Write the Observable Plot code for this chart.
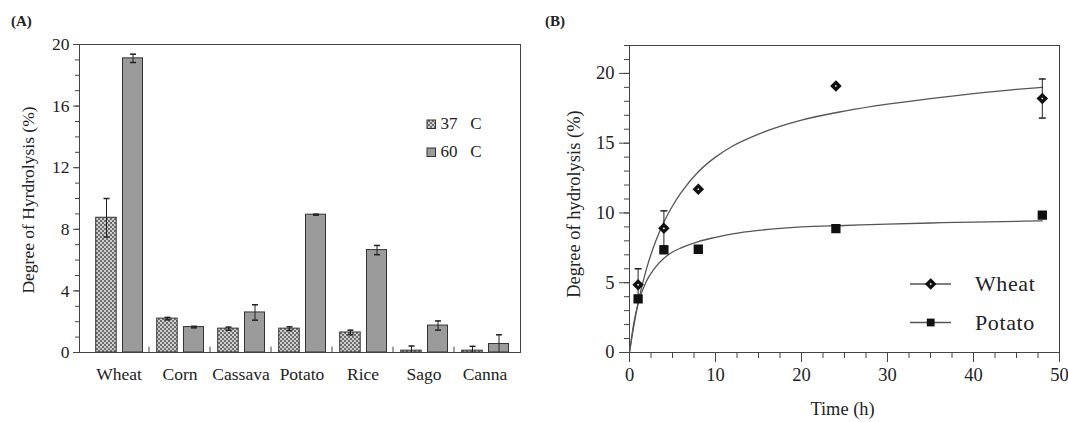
<!DOCTYPE html>
<html><head><meta charset="utf-8">
<script src="https://cdn.jsdelivr.net/npm/d3@7"></script>
<script src="https://cdn.jsdelivr.net/npm/@observablehq/plot@0.6"></script>
<style>
html,body{margin:0;padding:0;background:#fff;}
#wrap{position:relative;width:1068px;height:422px;overflow:hidden;font-family:"Liberation Serif","Times New Roman",serif;color:#222;}
#wrap > svg{position:absolute;top:0;overflow:visible;}
</style></head><body><div id="wrap"></div>
<script>
// ---------- Panel A data ----------
const categories = ["Wheat","Corn","Cassava","Potato","Rice","Sago","Canna"];
const tempLabels = ["37   C","60   C"];
const dh37 = [8.75, 2.2, 1.55, 1.55, 1.3, 0.12, 0.12];
const err37 = [1.25, 0.08, 0.1, 0.12, 0.15, 0.3, 0.28];
const dh60 = [19.1, 1.65, 2.6, 8.95, 6.65, 1.75, 0.55];
const err60 = [0.27, 0.05, 0.5, 0.03, 0.3, 0.3, 0.6];
const yTicksA = [0, 4, 8, 12, 16, 20];
const yMinorA = [0,1,2,3,4,5,6,7,8,9,10,11,12,13,14,15,16,17,18,19,20];

// ---------- Panel B data ----------
const times = [1, 4, 8, 24, 48];
const wheatDH = [4.85, 8.9, 11.7, 19.1, 18.2];
const wheatErr = [1.15, 1.25, 0, 0, 1.4];
const potatoDH = [3.85, 7.35, 7.4, 8.88, 9.85];
const fitTimes = [0, 0.5, 1, 2, 3, 4, 5, 6, 8, 10, 12, 15, 20, 25, 30, 35, 40, 45, 48];
const wheatFit = [0, 1.9, 3.55, 6.05, 7.9, 9.35, 10.5, 11.45, 12.95, 14.0, 14.8, 15.65, 16.65, 17.3, 17.8, 18.2, 18.55, 18.85, 19.0];
const potatoFit = [0, 2.1, 3.5, 5.15, 6.1, 6.75, 7.2, 7.5, 7.95, 8.25, 8.5, 8.75, 9.0, 9.1, 9.2, 9.28, 9.35, 9.4, 9.43];
const seriesNames = ["Wheat", "Potato"];
const yTicksB = [0, 5, 10, 15, 20];
const yMinorB = [0,1,2,3,4,5,6,7,8,9,10,11,12,13,14,15,16,17,18,19,20,21,22];
const xTicksB = [0, 10, 20, 30, 40, 50];
const xMinorB = [0,2.5,5,7.5,10,12.5,15,17.5,20,22.5,25,27.5,30,32.5,35,37.5,40,42.5,45,47.5,50];

// ---------- tables ----------
const rows37 = categories.map((c, i) => ({cat: c, temp: tempLabels[0], v: dh37[i], e: err37[i]}));
const rows60 = categories.map((c, i) => ({cat: c, temp: tempLabels[1], v: dh60[i], e: err60[i]}));
const wheatRows = times.map((t, i) => ({t, v: wheatDH[i], e: wheatErr[i]}));
const potatoRows = times.map((t, i) => ({t, v: potatoDH[i]}));
const wheatFitRows = fitTimes.map((t, i) => ({t, v: wheatFit[i]}));
const potatoFitRows = fitTimes.map((t, i) => ({t, v: potatoFit[i]}));

const capSymbol = {draw(ctx, size) { const w = Math.sqrt(size / Math.PI); ctx.moveTo(-w, 0); ctx.lineTo(w, 0); }};
const ink = "#222";
const baseStyle = {fontFamily: "Liberation Serif, Times New Roman, serif", color: ink, background: "transparent", overflow: "visible"};

const chartA = Plot.plot({
  width: 534, height: 422,
  marginLeft: 79, marginRight: 14, marginTop: 44, marginBottom: 70,
  style: {...baseStyle, fontSize: "17px"},
  x: {type: "band", domain: categories, range: [84.3, 518.3], padding: 0},
  y: {domain: [0, 20]},
  marks: [
    Plot.barY(rows37, {x: "cat", y: "v", fill: "url(#chk)", stroke: "#333", strokeWidth: 1, insetLeft: 7.7, insetRight: 32.8}),
    Plot.barY(rows60, {x: "cat", y: "v", fill: "#9b9b9b", stroke: "#333", strokeWidth: 1, insetLeft: 34.5, insetRight: 6.5}),
    Plot.ruleX(rows37, {x: "cat", y1: d => d.v - d.e, y2: d => d.v + d.e, dx: -12.5, stroke: ink, clip: true}),
    Plot.dot(rows37, {x: "cat", y: d => d.v + d.e, dx: -12.5, symbol: capSymbol, r: 3, fill: "none", stroke: ink, clip: true}),
    Plot.dot(rows37, {x: "cat", y: d => d.v - d.e, dx: -12.5, symbol: capSymbol, r: 3, fill: "none", stroke: ink, clip: true}),
    Plot.ruleX(rows60, {x: "cat", y1: d => d.v - d.e, y2: d => d.v + d.e, dx: 14, stroke: ink, clip: true}),
    Plot.dot(rows60, {x: "cat", y: d => d.v + d.e, dx: 14, symbol: capSymbol, r: 3, fill: "none", stroke: ink, clip: true}),
    Plot.dot(rows60, {x: "cat", y: d => d.v - d.e, dx: 14, symbol: capSymbol, r: 3, fill: "none", stroke: ink, clip: true}),
    Plot.ruleX(categories.slice(1), {x: d => d, y1: 0, y2: 0.35, dx: -31, stroke: "#444"}),
    Plot.frame({stroke: "#444"}),
    Plot.axisY({ticks: yTicksA, tickSize: 6, tickPadding: 4, label: null, fontSize: 17.5, stroke: "#444"}),
    Plot.axisY({ticks: yMinorA, tickSize: 4, tickFormat: () => "", label: null, stroke: "#444"}),
    Plot.axisX({tickSize: 0, tickPadding: 15, label: null, fontSize: 17.5})
  ]
});

const chartB = Plot.plot({
  width: 534, height: 422,
  marginLeft: 95, marginRight: 9, marginTop: 45, marginBottom: 70,
  style: {...baseStyle, fontSize: "18px"},
  x: {domain: [0, 50]},
  y: {domain: [0, 22]},
  marks: [
    Plot.frame({stroke: "#444"}),
    Plot.axisY({ticks: yTicksB, tickSize: 10, tickPadding: 5, label: null, fontSize: 18.5, stroke: "#444"}),
    Plot.axisY({ticks: yMinorB, tickSize: 5, tickFormat: () => "", label: null, stroke: "#444"}),
    Plot.axisX({ticks: xTicksB, tickSize: 10, tickPadding: 5, label: null, fontSize: 18.5, stroke: "#444"}),
    Plot.axisX({ticks: xMinorB, tickSize: 6, tickFormat: () => "", label: null, stroke: "#444"}),
    Plot.line(wheatFitRows, {x: "t", y: "v", curve: "monotone-x", stroke: "#555", strokeWidth: 1.3}),
    Plot.line(potatoFitRows, {x: "t", y: "v", curve: "monotone-x", stroke: "#555", strokeWidth: 1.3}),
    Plot.ruleX(wheatRows.filter(d => d.e > 0), {x: "t", y1: d => d.v - d.e, y2: d => d.v + d.e, stroke: ink}),
    Plot.dot(wheatRows.filter(d => d.e > 0), {x: "t", y: d => d.v + d.e, symbol: capSymbol, r: 3.5, fill: "none", stroke: ink}),
    Plot.dot(wheatRows.filter(d => d.e > 0), {x: "t", y: d => d.v - d.e, symbol: capSymbol, r: 3.5, fill: "none", stroke: ink}),
    Plot.dot(potatoRows, {x: "t", y: "v", symbol: "square", r: 4.4, fill: "#111", stroke: "#111"}),
    Plot.dot(wheatRows, {x: "t", y: "v", symbol: "diamond2", r: 3.1, fill: "#fff", stroke: "#111", strokeWidth: 3.3})
  ]
});

const wrap = document.getElementById("wrap");
chartA.style.left = "0px";
chartB.style.left = "534px";
wrap.appendChild(chartA);
wrap.appendChild(chartB);

// ---------- overlay: pattern, panel tags, axis titles, legends ----------
const svg = d3.select(wrap).append("svg")
  .attr("width", 1068).attr("height", 422)
  .style("left", "0px").style("pointer-events", "none")
  .attr("font-family", "Liberation Serif, Times New Roman, serif")
  .attr("fill", ink);
const pat = svg.append("defs").append("pattern")
  .attr("id", "chk").attr("width", 4).attr("height", 4).attr("patternUnits", "userSpaceOnUse");
pat.append("rect").attr("width", 4).attr("height", 4).attr("fill", "#cfcfcf");
pat.append("rect").attr("width", 2).attr("height", 2).attr("fill", "#6e6e6e");
pat.append("rect").attr("x", 2).attr("y", 2).attr("width", 2).attr("height", 2).attr("fill", "#6e6e6e");

svg.append("text").attr("x", 11).attr("y", 26).attr("font-size", 15).attr("font-weight", "bold").text("(A)");
svg.append("text").attr("x", 545).attr("y", 26).attr("font-size", 15).attr("font-weight", "bold").text("(B)");

svg.append("text").attr("transform", "translate(34,200) rotate(-90)").attr("text-anchor", "middle")
  .attr("font-size", 17.5).text("Degree of Hyrdrolysis (%)");
svg.append("text").attr("transform", "translate(579.5,204) rotate(-90)").attr("text-anchor", "middle")
  .attr("font-size", 18.5).text("Degree of hydrolysis (%)");
svg.append("text").attr("x", 842.5).attr("y", 415).attr("text-anchor", "middle")
  .attr("font-size", 18.4).text("Time (h)");

// legend A
const legA = [{fill: "url(#chk)", y: 120, label: tempLabels[0]}, {fill: "#9b9b9b", y: 148, label: tempLabels[1]}];
legA.forEach(d => {
  svg.append("rect").attr("x", 427).attr("y", d.y).attr("width", 8.5).attr("height", 8.5)
    .attr("fill", d.fill).attr("stroke", "#333").attr("stroke-width", 1);
  svg.append("text").attr("x", 440.5).attr("y", d.y + 8.5).attr("font-size", 17)
    .style("white-space", "pre").attr("xml:space", "preserve").text(d.label);
});

// legend B
const legB = [{name: seriesNames[0], y: 284}, {name: seriesNames[1], y: 322.5}];
legB.forEach((d, i) => {
  svg.append("line").attr("x1", 910).attr("x2", 951).attr("y1", d.y).attr("y2", d.y).attr("stroke", "#555").attr("stroke-width", 1.3);
  if (i === 0) {
    const cx = 930.7, cy = d.y, h = 3.5;
    svg.append("path").attr("d", `M${cx},${cy - h}L${cx + h},${cy}L${cx},${cy + h}L${cx - h},${cy}Z`)
      .attr("fill", "#fff").attr("stroke", "#111").attr("stroke-width", 3.3);
  } else {
    svg.append("rect").attr("x", 926.8).attr("y", d.y - 3.9).attr("width", 7.8).attr("height", 7.8).attr("fill", "#111");
  }
  svg.append("text").attr("x", 975).attr("y", d.y + 7).attr("font-size", 22).attr("letter-spacing", 0.6).text(d.name);
});
</script>
</body></html>
